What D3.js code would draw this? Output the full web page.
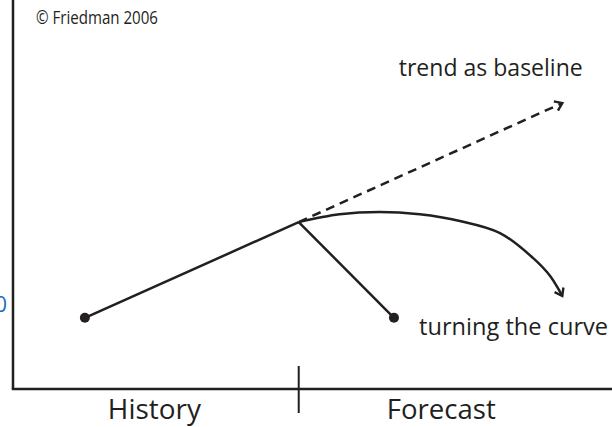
<!DOCTYPE html>
<html>
<head>
<meta charset="utf-8">
<script src="https://cdn.jsdelivr.net/npm/d3@7"></script>
<style>
  html, body { margin: 0; padding: 0; background: #fff; }
  svg { display: block; }
  text { font-family: "Open Sans", "Noto Sans", sans-serif; fill: #231f20; }
</style>
</head>
<body>
<svg id="chart" width="612" height="427"></svg>
<script>
// ---- data (abstract units: x = time 0..100, y = level 0..100) ----
const periodLabels = ["History", "Forecast"];
const periodCenters = [23.6, 71.5];
const nowX = 47.7;
const historyLine = [[12.0, 18.3], [47.7, 42.9]];
const trendLine = [[47.7, 42.9], [91.7, 73.5]];
const turnedLine = [[47.7, 42.9], [63.6, 18.3]];
const curveLine = [[47.7, 42.9], [54.5, 44.9], [61.2, 45.5], [67.9, 44.9], [74.6, 43.2], [81.3, 40.1], [86.8, 33.7], [89.7, 29.0], [91.7, 23.9]];
const dots = [[12.0, 18.3], [63.6, 18.3]];
const annotations = [
  { text: "trend as baseline", x: 64.4, y: 80.5 },
  { text: "turning the curve", x: 67.8, y: 13.9 }
];
const creditText = "© Friedman 2006";
const axisValueLabel = "0";

const W = 612, H = 427;
const x = d3.scaleLinear().domain([0, 100]).range([13, 612]);
const y = d3.scaleLinear().domain([0, 100]).range([389, 0]);
const ink = "#231f20";

const svg = d3.select("#chart");
const defs = svg.append("defs");
defs.append("marker")
  .attr("id", "chev").attr("viewBox", "-10 -6 12 12")
  .attr("refX", 0).attr("refY", 0)
  .attr("markerWidth", 12).attr("markerHeight", 12)
  .attr("markerUnits", "userSpaceOnUse")
  .attr("orient", "auto")
  .append("path").attr("d", "M-7,-5 L0,0 L-7,5")
  .attr("fill", "none").attr("stroke", ink).attr("stroke-width", 2.4);

// axes
svg.append("line").attr("x1", x(0)).attr("x2", x(0)).attr("y1", 0).attr("y2", y(0))
  .attr("stroke", ink).attr("stroke-width", 2.5);
svg.append("line").attr("x1", x(0) - 1.25).attr("x2", x(100)).attr("y1", y(0)).attr("y2", y(0))
  .attr("stroke", ink).attr("stroke-width", 2.5);
svg.append("line").attr("x1", x(nowX)).attr("x2", x(nowX)).attr("y1", y(0) - 23).attr("y2", y(0) + 24)
  .attr("stroke", ink).attr("stroke-width", 2);

const periodWidths = [93, 109];
svg.selectAll("text.period").data(periodLabels).join("text")
  .attr("class", "period")
  .attr("x", (d, i) => x(periodCenters[i]))
  .attr("y", 419)
  .attr("text-anchor", "middle")
  .attr("font-size", 28)
  .attr("textLength", (d, i) => periodWidths[i])
  .attr("lengthAdjust", "spacingAndGlyphs")
  .text(d => d);

// blue partial label at left edge (cut off in the original too)
svg.append("text").attr("x", 7).attr("y", 312).attr("text-anchor", "end")
  .attr("font-size", 22).style("fill", "#1f6fc1").text(axisValueLabel);

svg.append("text").attr("x", 36).attr("y", 24).attr("font-size", 18)
  .attr("textLength", 122).attr("lengthAdjust", "spacingAndGlyphs").text(creditText);

const line = d3.line().x(d => x(d[0])).y(d => y(d[1]));
const lineCurve = d3.line().x(d => x(d[0])).y(d => y(d[1])).curve(d3.curveCatmullRom.alpha(0.5));

svg.append("path").attr("d", line(historyLine)).attr("fill", "none").attr("stroke", ink).attr("stroke-width", 2.5);
svg.append("path").attr("d", line(turnedLine)).attr("fill", "none").attr("stroke", ink).attr("stroke-width", 2.5);
svg.append("path").attr("d", line(trendLine)).attr("fill", "none").attr("stroke", ink).attr("stroke-width", 2.5)
  .attr("stroke-dasharray", "9,6").attr("marker-end", "url(#chev)");
svg.append("path").attr("d", lineCurve(curveLine)).attr("fill", "none").attr("stroke", ink).attr("stroke-width", 2.5)
  .attr("marker-end", "url(#chev)");

svg.selectAll("circle.dot").data(dots).join("circle")
  .attr("class", "dot").attr("cx", d => x(d[0])).attr("cy", d => y(d[1])).attr("r", 5).attr("fill", ink);

const annWidths = [184, 189];
svg.selectAll("text.ann").data(annotations).join("text")
  .attr("class", "ann").attr("x", d => x(d.x)).attr("y", d => y(d.y))
  .attr("font-size", 23)
  .attr("textLength", (d, i) => annWidths[i])
  .attr("lengthAdjust", "spacingAndGlyphs")
  .text(d => d.text);
</script>
</body>
</html>
